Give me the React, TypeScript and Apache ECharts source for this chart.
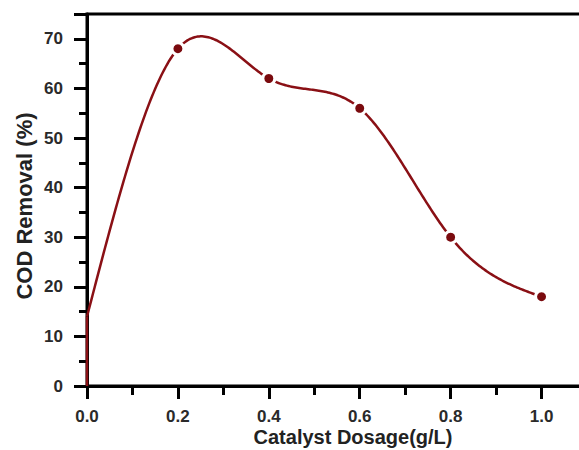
import React, { useEffect, useRef } from "react";
import * as echarts from "echarts";

const dosage = [0.0, 0.2, 0.4, 0.6, 0.8, 1.0];
const codRemoval = [14, 68, 62, 56, 30, 18];
const startSegment = [[0, 0], [0, 14]];
const xTicks = [0, 0.2, 0.4, 0.6, 0.8, 1.0];
const xTitle = "Catalyst Dosage(g/L)";
const yTitle = "COD Removal (%)";

// natural cubic spline second derivatives (how the plotting program joined the points)
function naturalSplineM(xs: number[], ys: number[]) {
  const n = xs.length;
  const h: number[] = [];
  for (let i = 0; i < n - 1; i++) h.push(xs[i + 1] - xs[i]);
  const a: number[] = new Array(n).fill(0);
  const b: number[] = new Array(n).fill(1);
  const c: number[] = new Array(n).fill(0);
  const d: number[] = new Array(n).fill(0);
  for (let i = 1; i < n - 1; i++) {
    a[i] = h[i - 1];
    b[i] = 2 * (h[i - 1] + h[i]);
    c[i] = h[i];
    d[i] = 6 * ((ys[i + 1] - ys[i]) / h[i] - (ys[i] - ys[i - 1]) / h[i - 1]);
  }
  for (let i = 1; i < n; i++) {
    const w = a[i] / b[i - 1];
    b[i] -= w * c[i - 1];
    d[i] -= w * d[i - 1];
  }
  const M: number[] = new Array(n).fill(0);
  M[n - 1] = d[n - 1] / b[n - 1];
  for (let i = n - 2; i >= 0; i--) M[i] = (d[i] - c[i] * M[i + 1]) / b[i];
  return M;
}

function splineAt(xs: number[], ys: number[], M: number[], x: number) {
  let i = 0;
  while (i < xs.length - 2 && x > xs[i + 1]) i++;
  const h = xs[i + 1] - xs[i];
  const A = (xs[i + 1] - x) / h;
  const B = (x - xs[i]) / h;
  return (
    A * ys[i] +
    B * ys[i + 1] +
    ((A * A * A - A) * M[i] + (B * B * B - B) * M[i + 1]) * (h * h) / 6
  );
}

export default function App() {
  const ref = useRef<HTMLDivElement>(null);
  useEffect(() => {
    const chart = echarts.init(ref.current!, null, { renderer: "svg" });
    const red = "#8a1015";
    const M = naturalSplineM(dosage, codRemoval);
    const labelStyle = {
      fontFamily: "Liberation Sans",
      fontWeight: "bold",
      fontSize: 17,
      color: "#2a2a2a",
    };
    chart.setOption({
      animation: false,
      backgroundColor: "#fff",
      grid: {
        left: 87,
        top: 14,
        width: 500,
        height: 372,
        outerBoundsMode: "none",
        containLabel: false,
        show: true,
        borderColor: "#000",
        borderWidth: 3,
      },
      graphic: [
        {
          type: "text",
          x: 24,
          y: 206,
          rotation: Math.PI / 2,
          style: {
            text: yTitle,
            fontFamily: "Liberation Sans",
            fontWeight: "bold",
            fontSize: 22,
            fill: "#222",
            align: "center",
            verticalAlign: "middle",
          },
        },
        {
          type: "text",
          x: 353,
          y: 437,
          style: {
            text: xTitle,
            fontFamily: "Liberation Sans",
            fontWeight: "bold",
            fontSize: 20,
            fill: "#222",
            align: "center",
            verticalAlign: "middle",
          },
        },
      ],
      xAxis: {
        type: "value",
        min: 0,
        max: 1.1,
        interval: 0.2,
        axisLine: { show: true, lineStyle: { color: "#000", width: 3 } },
        axisTick: { show: true, inside: false, length: 13, lineStyle: { color: "#000", width: 3 } },
        minorTick: { show: true, splitNumber: 2, length: 9, lineStyle: { color: "#000", width: 3 } },
        splitLine: { show: false },
        axisLabel: {
          margin: 22,
          ...labelStyle,
          formatter: (v: number) => (xTicks.some((t) => Math.abs(t - v) < 1e-9) ? v.toFixed(1) : ""),
        },
      },
      yAxis: {
        type: "value",
        min: 0,
        max: 75,
        interval: 10,
        axisLine: { show: true, lineStyle: { color: "#000", width: 3 } },
        axisTick: { show: true, inside: false, length: 13, lineStyle: { color: "#000", width: 3 } },
        minorTick: { show: true, splitNumber: 2, length: 8, lineStyle: { color: "#000", width: 3 } },
        splitLine: { show: false },
        axisLabel: {
          margin: 24,
          showMaxLabel: false,
          ...labelStyle,
        },
      },
      series: [
        {
          type: "line",
          data: startSegment,
          symbol: "none",
          lineStyle: { color: red, width: 2.5 },
          z: 2,
        },
        {
          type: "custom",
          data: dosage.map((d, i) => [d, codRemoval[i]]),
          encode: { x: 0, y: 1 },
          z: 2,
          renderItem: (params: any, api: any) => {
            if (params.dataIndex !== 0) return null;
            const pts: number[][] = [];
            const x0 = dosage[0];
            const x1 = dosage[dosage.length - 1];
            const steps = 300;
            for (let k = 0; k <= steps; k++) {
              const x = x0 + ((x1 - x0) * k) / steps;
              pts.push(api.coord([x, splineAt(dosage, codRemoval, M, x)]));
            }
            return {
              type: "polyline",
              shape: { points: pts },
              style: { stroke: red, lineWidth: 2.5, fill: "none" },
            };
          },
        },
        {
          type: "scatter",
          data: dosage.map((d, i) => [d, codRemoval[i]]).slice(1),
          symbol: "circle",
          symbolSize: 12,
          itemStyle: { color: "#7a0a0e", borderColor: "#fff", borderWidth: 3, opacity: 1 },
          z: 4,
        },
      ],
    });
    return () => chart.dispose();
  }, []);
  return <div ref={ref} style={{ width: 579, height: 450, position: "absolute", left: 0, top: 0 }} />;
}
